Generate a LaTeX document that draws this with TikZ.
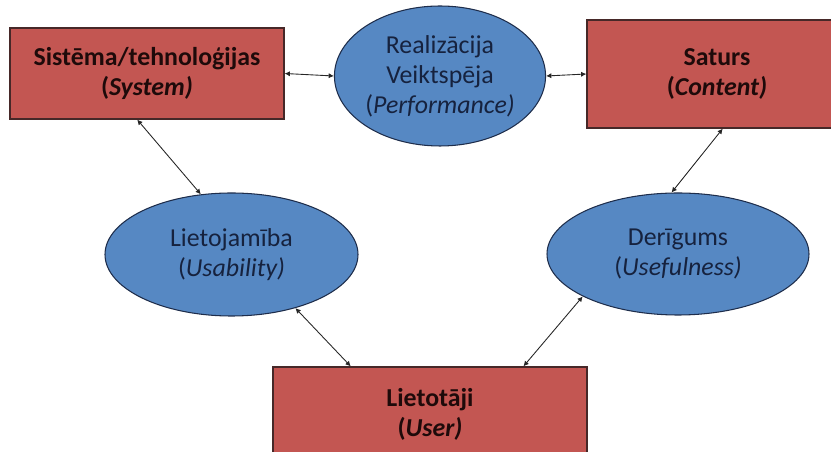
\documentclass[tikz,border=0pt]{standalone}
\usepackage{fontspec}
\setmainfont{Carlito}
\usetikzlibrary{arrows.meta, shapes.geometric}

\definecolor{boxred}{RGB}{195,86,82}
\definecolor{boxline}{RGB}{70,40,40}
\definecolor{ovalblue}{RGB}{86,136,195}
\definecolor{ovalline}{RGB}{30,45,75}
\definecolor{ovaltext}{RGB}{22,34,62}
\definecolor{boxtext}{RGB}{30,10,10}

\tikzset{
    redbox/.style={draw=boxline, line width=0.7pt, fill=boxred, text=boxtext,
        align=center, inner sep=0pt,
        font=\fontsize{14.7}{17}\selectfont\bfseries},
    blueoval/.style={draw=ovalline, line width=0.6pt, fill=ovalblue, text=ovaltext,
        ellipse, align=center, inner sep=0pt,
        font=\fontsize{14.7}{17}\selectfont},
    link/.style={{Latex[length=3pt,width=3pt]}-{Latex[length=3pt,width=3pt]}, line width=0.5pt, black!85}
}

\begin{document}
\begin{tikzpicture}
        \useasboundingbox (0, 0) rectangle (16.62, 9.04);
        \clip (0, 0) rectangle (16.62, 9.04);

        \node[redbox, minimum width=5.48cm, minimum height=1.82cm] (sys) at (2.94, 7.57)
            {Sistēma/tehnoloģijas\\(\textit{System)}};
        \node[blueoval, minimum width=3.92cm, minimum height=2.8cm] (perf) at (8.80, 7.52)
            {Realizācija\\Veiktspēja\\(\textit{Performance)}};
        \node[redbox, minimum width=5.2cm, minimum height=2.16cm] (cont) at (14.34, 7.56)
            {Saturs\\(\textit{Content)}};

        \node[blueoval, minimum width=5.06cm, minimum height=2.46cm] (usab) at (4.63, 3.95)
            {Lietojamība\\(\textit{Usability)}};
        \node[blueoval, minimum width=5.24cm, minimum height=2.44cm] (usef) at (13.56, 3.96)
            {Derīgums\\(\textit{Usefulness)}};

        \node[redbox, minimum width=6.28cm, minimum height=1.88cm] (user) at (8.6, 0.76)
            {Lietotāji\\(\textit{User)}};

        \draw[link] (sys.east) -- (perf.west);
        \draw[link] (perf.east) -- (cont.west);
        \draw[link] (sys.-102) -- (usab.117);
        \draw[link] (cont.-84) -- (usef.96);
        \draw[link] (usab.-40) -- (user.149);
        \draw[link] (usef.204) -- (user.27);
    \end{tikzpicture}
\end{document}
